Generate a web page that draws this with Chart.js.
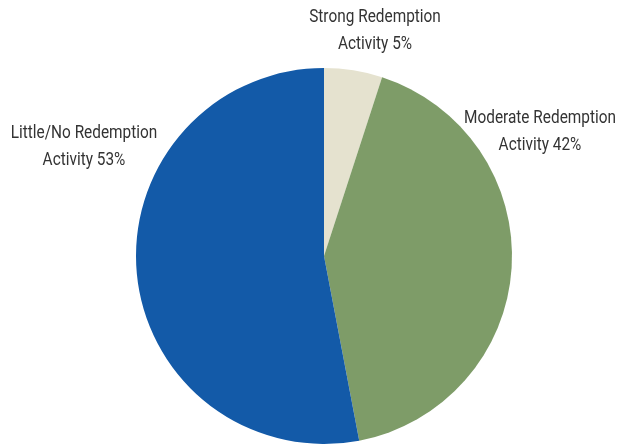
<!DOCTYPE html>
<html>
<head>
<meta charset="utf-8">
<script src="https://cdn.jsdelivr.net/npm/chart.js@4.4.1/dist/chart.umd.min.js"></script>
<style>
  html, body { margin: 0; padding: 0; background: #fff; }
  #wrap { width: 624px; height: 446px; }
</style>
</head>
<body>
<div id="wrap"><canvas id="pieChart" width="624" height="446"></canvas></div>
<script>
const categories = ['Strong Redemption Activity', 'Moderate Redemption Activity', 'Little/No Redemption Activity'];
const shares = [5, 42, 53];
const sliceColors = ['#e5e2cf', '#7e9c68', '#135aa8'];

// where each two-line caption sits, as an offset from the pie centre
const captionOffsets = [[51, -225], [216, -124], [-240, -109]];
// no condensed face installed, so squeeze the text horizontally
const squeeze = 0.81;

const captions = {
    id: 'captions',
    afterDraw(chart) {
        const {ctx} = chart;
        const arc = chart.getDatasetMeta(0).data[0];
        ctx.save();
        ctx.font = '19px "Roboto", sans-serif';
        ctx.fillStyle = '#333333';
        ctx.textAlign = 'center';
        ctx.textBaseline = 'middle';
        categories.forEach((name, i) => {
            const cut = name.lastIndexOf(' ');
            const x = arc.x + captionOffsets[i][0];
            const y = arc.y + captionOffsets[i][1];
            ctx.save();
            ctx.translate(x, y);
            ctx.scale(squeeze, 1);
            ctx.fillText(name.slice(0, cut), 0, -13.5);
            ctx.fillText(name.slice(cut + 1) + ' ' + shares[i] + '%', 0, 13.5);
            ctx.restore();
        });
        ctx.restore();
    }
};

new Chart(document.getElementById('pieChart'), {
    type: 'pie',
    data: {
        labels: categories,
        datasets: [{
            data: shares,
            backgroundColor: sliceColors,
            borderWidth: 0
        }]
    },
    options: {
        responsive: false,
        animation: false,
        layout: {padding: {top: 68, bottom: 2, left: 24, right: 0}},
        plugins: {legend: {display: false}, tooltip: {enabled: false}}
    },
    plugins: [captions]
});
</script>
</body>
</html>
